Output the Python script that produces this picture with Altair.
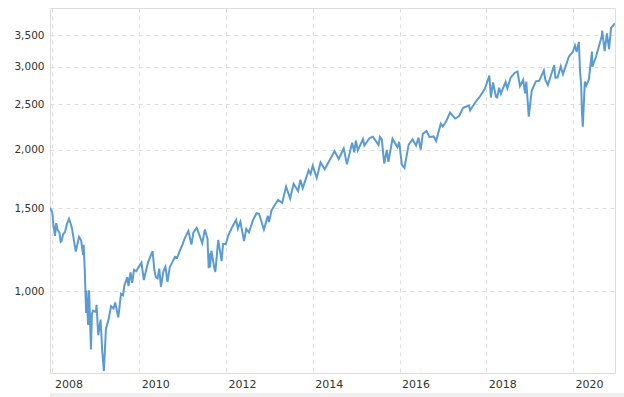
import altair as alt
import pandas as pd

dates = [
"2007-12-11","2007-12-21","2007-12-31","2008-01-08","2008-01-22","2008-02-01","2008-02-14","2008-02-29",
"2008-03-10","2008-03-17","2008-03-31","2008-04-15","2008-04-30","2008-05-19","2008-05-30","2008-06-13",
"2008-06-30","2008-07-15","2008-07-31","2008-08-11","2008-08-29","2008-09-15","2008-09-19","2008-09-29",
"2008-10-10","2008-10-13","2008-10-27","2008-11-04","2008-11-20","2008-11-28","2008-12-08","2008-12-31",
"2009-01-06","2009-01-20","2009-02-09","2009-02-23","2009-03-09","2009-03-26","2009-04-17","2009-05-08",
"2009-05-29","2009-06-12","2009-07-08","2009-07-31","2009-08-17","2009-08-28","2009-09-22","2009-10-02",
"2009-10-19","2009-11-02","2009-11-17","2009-12-07","2009-12-28","2010-01-19","2010-02-08","2010-02-26",
"2010-03-15","2010-04-06","2010-04-23","2010-05-07","2010-05-20","2010-06-04","2010-06-18","2010-07-02",
"2010-07-23","2010-08-09","2010-08-26","2010-09-15","2010-10-01","2010-10-29","2010-11-16","2010-12-01",
"2010-12-31","2011-01-18","2011-02-18","2011-03-16","2011-04-01","2011-04-29","2011-05-16","2011-06-15",
"2011-07-07","2011-07-29","2011-08-08","2011-08-15","2011-08-19","2011-08-31","2011-09-22","2011-10-03",
"2011-10-27","2011-11-25","2011-12-07","2011-12-30","2012-01-20","2012-02-17","2012-03-26","2012-04-10",
"2012-05-01","2012-06-01","2012-06-19","2012-07-12","2012-08-16","2012-09-14","2012-10-05","2012-11-15",
"2012-12-18","2012-12-28","2013-01-18","2013-02-19","2013-03-14","2013-04-18","2013-05-21","2013-06-24",
"2013-07-23","2013-08-30","2013-09-18","2013-10-08","2013-11-27","2013-12-13","2013-12-31","2014-02-03",
"2014-03-07","2014-04-11","2014-05-23","2014-07-03","2014-08-07","2014-09-18","2014-10-15","2014-11-28",
"2014-12-16","2014-12-29","2015-01-15","2015-02-27","2015-03-11","2015-04-24","2015-05-21","2015-07-08",
"2015-07-20","2015-08-05","2015-08-25","2015-09-16","2015-09-29","2015-11-03","2015-12-14","2015-12-29",
"2016-01-20","2016-02-11","2016-03-18","2016-04-20","2016-05-19","2016-06-08","2016-06-27","2016-07-15",
"2016-08-15","2016-09-09","2016-10-14","2016-11-04","2016-12-13","2016-12-30","2017-01-27","2017-03-01",
"2017-04-13","2017-05-17","2017-06-19","2017-08-07","2017-08-18","2017-09-29","2017-11-08","2017-12-18",
"2018-01-26","2018-02-08","2018-02-26","2018-03-23","2018-04-02","2018-04-18","2018-05-03","2018-06-12",
"2018-06-27","2018-07-25","2018-08-29","2018-09-20","2018-10-11","2018-11-07","2018-11-23","2018-12-03",
"2018-12-24","2019-01-18","2019-02-22","2019-03-22","2019-04-30","2019-05-13","2019-06-03","2019-07-26",
"2019-08-05","2019-08-23","2019-09-19","2019-10-08","2019-11-27","2019-12-31","2020-01-17","2020-01-31",
"2020-02-19","2020-02-28","2020-03-09","2020-03-16","2020-03-23","2020-04-09","2020-04-21","2020-05-13",
"2020-06-08","2020-06-11","2020-07-13","2020-08-31","2020-09-02","2020-09-23","2020-10-12","2020-10-30",
"2020-11-16","2020-12-18",
]
values = [
1505,1484,1468,1390,1310,1395,1348,1331,
1273,1277,1323,1335,1385,1426,1400,1360,
1280,1214,1267,1305,1283,1193,1255,1106,
899,1003,848,1005,752,896,909,903,
935,806,870,743,677,832,870,929,
919,946,880,987,980,1028,1071,1025,
1097,1042,1110,1103,1128,1150,1056,1104,
1150,1189,1217,1111,1071,1065,1117,1022,
1103,1127,1047,1126,1146,1183,1178,1206,
1258,1295,1343,1256,1332,1364,1329,1265,
1353,1292,1119,1204,1123,1219,1129,1099,
1285,1159,1261,1258,1315,1361,1417,1358,
1405,1278,1357,1334,1418,1465,1461,1353,
1446,1402,1486,1531,1563,1541,1669,1573,
1692,1633,1725,1656,1807,1775,1848,1741,
1878,1816,1900,1985,1910,2011,1862,2068,
1973,2091,1993,2105,2040,2117,2131,2047,
2128,2100,1868,1996,1884,2109,2022,2078,
1859,1829,2050,2102,2040,2119,2001,2162,
2191,2128,2133,2085,2271,2239,2295,2396,
2329,2357,2453,2481,2425,2519,2594,2690,
2873,2581,2780,2588,2582,2708,2630,2786,
2699,2846,2914,2931,2728,2814,2633,2790,
2351,2671,2793,2801,2946,2812,2744,3026,
2845,2847,3006,2893,3154,3231,3330,3226,
3386,2954,2747,2386,2237,2790,2737,2820,
3232,3002,3155,3500,3580,3237,3534,3270,
3627,3709,
]
y_ticks = [1000, 1500, 2000, 2500, 3000, 3500]
x_tick_years = [2008, 2010, 2012, 2014, 2016, 2018, 2020]

df = pd.DataFrame({"date": pd.to_datetime(dates), "value": values})

font = "DejaVu Sans"

line = alt.Chart(df).mark_line(color="#5b9bd5", strokeWidth=2, clip=True).encode(
    x=alt.X("date:T",
            scale=alt.Scale(domain=[alt.DateTime(year=2007, month=12, date=11),
                                    alt.DateTime(year=2020, month=12, date=19)]),
            axis=alt.Axis(title=None, values=[alt.DateTime(year=y, month=1, date=1) for y in x_tick_years],
                          format="%Y", labelAlign="left", labelBaseline="middle", labelPadding=11,
                          labelOffset=2, labelFont=font, labelFontSize=11, labelColor="#333333",
                          domain=False, ticks=False, grid=True, gridColor="#dedede", gridDash=[4, 4],
                          labelFlush=False, labelOverlap=False)),
    y=alt.Y("value:Q",
            scale=alt.Scale(type="log", domain=[670, 4000], nice=False),
            axis=alt.Axis(title=None, values=y_ticks, format=",", labelFont=font, labelFontSize=10.5,
                          labelColor="#333333", labelPadding=6, domain=False, ticks=False,
                          grid=True, gridColor="#dedede", gridDash=[4, 4])),
)

band = alt.Chart(pd.DataFrame({"a": [0]})).mark_rect(color="#efefef").encode(
    x=alt.value(0), x2=alt.value(574), y=alt.value(385), y2=alt.value(392)
)

chart = (line + band).properties(
    width=565, height=365,
    autosize=alt.AutoSizeParams(type="none"),
    padding={"left": 50, "top": 8, "right": 9, "bottom": 24},
).configure_view(stroke=None).configure(background="white")

chart.save("out.html", embed_options={"renderer": "svg", "actions": False})
